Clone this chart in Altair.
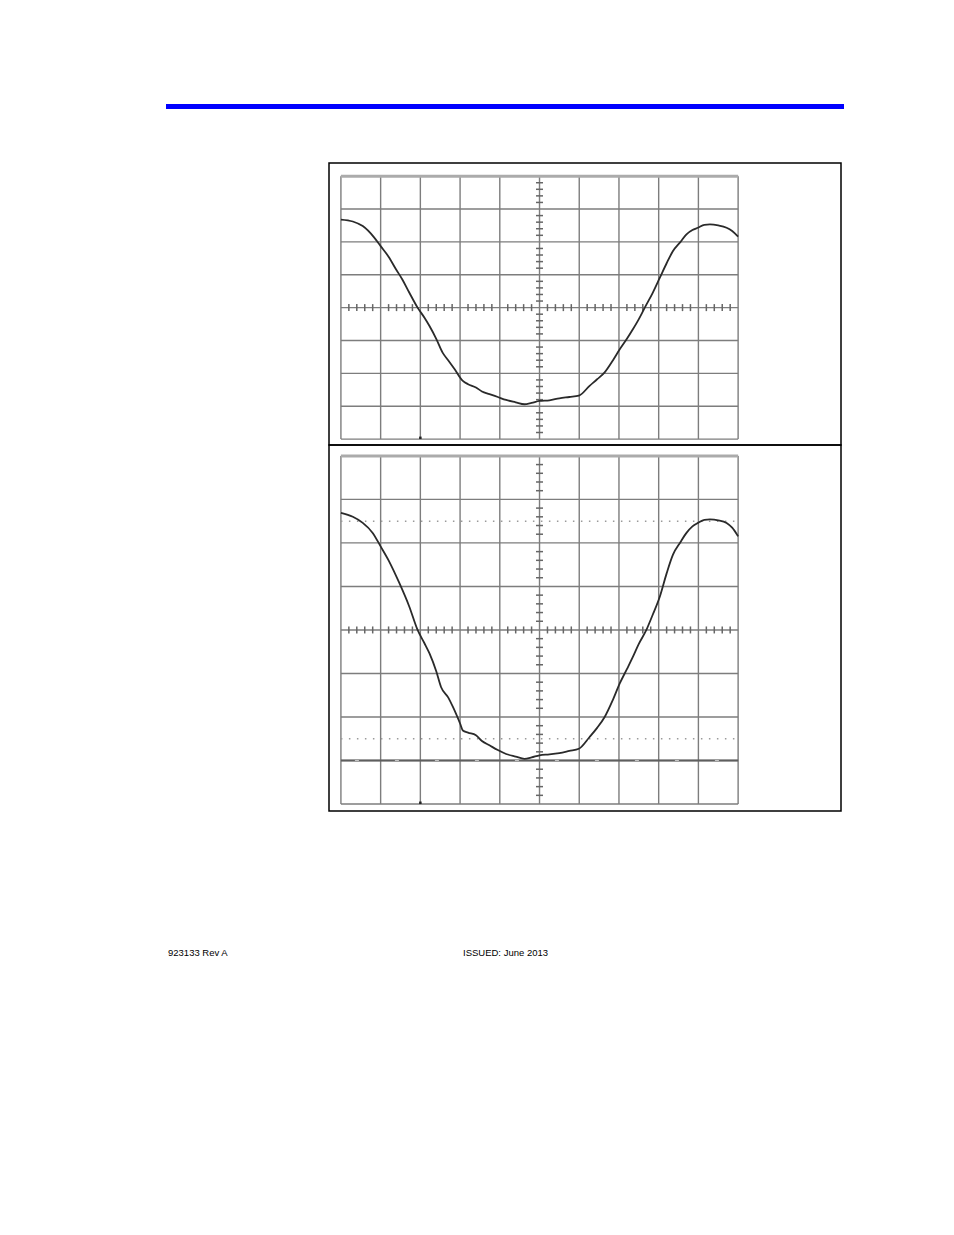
import altair as alt
import pandas as pd

# ---- trace data (screen divisions: x 0..10, y -4..4) ----
top_x = [0, 0.3, 0.55, 0.84, 1.0, 1.2, 1.39, 1.55, 1.72, 1.93, 2.1, 2.23, 2.4, 2.56, 2.7, 2.86,
         3.07, 3.2, 3.4, 3.55, 3.74, 3.95, 4.16, 4.4, 4.62, 4.8, 5.0, 5.25, 5.5, 5.75, 5.99,
         6.26, 6.45, 6.64, 6.85, 7.02, 7.2, 7.35, 7.5, 7.65, 7.85, 8.03, 8.2, 8.36, 8.55, 8.7,
         8.85, 8.99, 9.15, 9.29, 9.5, 9.71, 9.85, 10]
top_y = [2.68, 2.62, 2.48, 2.13, 1.87, 1.55, 1.16, 0.85, 0.46, 0.0, -0.3, -0.56, -0.95, -1.37,
         -1.6, -1.87, -2.23, -2.33, -2.43, -2.55, -2.63, -2.72, -2.81, -2.88, -2.94, -2.9, -2.84,
         -2.82, -2.76, -2.72, -2.68, -2.38, -2.18, -1.97, -1.6, -1.27, -0.95, -0.66, -0.35, 0.0,
         0.45, 0.91, 1.35, 1.72, 2.0, 2.23, 2.36, 2.43, 2.52, 2.53, 2.5, 2.43, 2.33, 2.16]

bot_x = [0, 0.3, 0.55, 0.8, 1.0, 1.2, 1.47, 1.72, 1.93, 2.1, 2.23, 2.4, 2.52, 2.7, 2.82, 3.0,
         3.07, 3.2, 3.4, 3.55, 3.74, 3.95, 4.16, 4.4, 4.62, 4.8, 5.0, 5.25, 5.5, 5.75, 5.99,
         6.26, 6.45, 6.64, 6.85, 7.02, 7.2, 7.35, 7.5, 7.69, 7.85, 8.03, 8.2, 8.36, 8.55, 8.7,
         8.85, 8.99, 9.15, 9.29, 9.5, 9.71, 9.85, 10]
bot_y = [2.69, 2.6, 2.46, 2.23, 1.92, 1.6, 1.08, 0.54, 0.0, -0.3, -0.54, -0.95, -1.31, -1.55,
         -1.77, -2.15, -2.31, -2.36, -2.42, -2.55, -2.65, -2.76, -2.85, -2.91, -2.96, -2.93,
         -2.88, -2.86, -2.83, -2.78, -2.73, -2.46, -2.25, -2.0, -1.6, -1.23, -0.9, -0.62, -0.32,
         0.0, 0.35, 0.77, 1.3, 1.73, 2.02, 2.23, 2.38, 2.46, 2.53, 2.54, 2.52, 2.46, 2.35, 2.15]

# grid structure
x_divs = list(range(0, 11))
y_divs = list(range(-4, 5))
minor_x = [k * 0.2 for k in range(0, 51) if k % 5 != 0]
minor_y = [k * 0.2 for k in range(-20, 21) if k % 5 != 0]
dotted_levels = [2.5, -2.5]
ref_level = [-3]

footer_left = "923133 Rev A"
footer_mid = "ISSUED: June 2013"

GRID = "#7d7d7d"
TICK = "#666666"
EDGE = "#ababab"
TRACE = "#2a2a2a"
PANEL_W = 512
X_DOM = [-0.30, 12.59]


def panel(tx, ty, h, y_top, y_bot, dotted):
    xs = alt.Scale(domain=X_DOM, nice=False, zero=False)
    ys = alt.Scale(domain=[y_bot, y_top], nice=False, zero=False)
    ppx = PANEL_W / (X_DOM[1] - X_DOM[0])
    ppy = h / (y_top - y_bot)
    X = lambda f: alt.X(f, type="quantitative", scale=xs, axis=None)
    Y = lambda f: alt.Y(f, type="quantitative", scale=ys, axis=None)

    v = pd.DataFrame({"x": x_divs, "y1": -4, "y2": 4})
    hl = pd.DataFrame({"y": y_divs, "x1": 0, "x2": 10})
    vrules = alt.Chart(v).mark_rule(color=GRID, strokeWidth=1.4).encode(
        x=X("x"), y=Y("y1"), y2="y2")
    hrules = alt.Chart(hl).mark_rule(color=GRID, strokeWidth=1.4).encode(
        y=Y("y"), x=X("x1"), x2="x2")
    topedge = alt.Chart(pd.DataFrame({"y": [4], "x1": [0], "x2": [10]})).mark_rule(
        color=EDGE, strokeWidth=3).encode(y=Y("y"), x=X("x1"), x2="x2")

    th = 3.5 / ppy
    mx = pd.DataFrame({"x": minor_x, "y1": -th, "y2": th})
    mticks_x = alt.Chart(mx).mark_rule(color=TICK, strokeWidth=1.5).encode(
        x=X("x"), y=Y("y1"), y2="y2")
    tw = 3.5 / ppx
    my = pd.DataFrame({"y": minor_y, "x1": 5 - tw, "x2": 5 + tw})
    mticks_y = alt.Chart(my).mark_rule(color=TICK, strokeWidth=1.5).encode(
        y=Y("y"), x=X("x1"), x2="x2")

    trig = alt.Chart(pd.DataFrame({"x": [2], "y1": [-4], "y2": [-4 + 2.5 / ppy]})).mark_rule(
        color="#222222", strokeWidth=2.5).encode(x=X("x"), y=Y("y1"), y2="y2")

    trace = alt.Chart(pd.DataFrame({"x": tx, "y": ty})).mark_line(
        color=TRACE, strokeWidth=1.8, interpolate="monotone").encode(
        x=X("x"), y=Y("y"), order="x:Q")

    layers = [hrules, vrules, topedge, mticks_x, mticks_y, trig]
    if dotted:
        dd = pd.DataFrame({"y": dotted_levels, "x1": 0, "x2": 10})
        layers.append(alt.Chart(dd).mark_rule(color="#9a9a9a", strokeWidth=1.5,
                                              strokeDash=[1.5, 6.5]).encode(
            y=Y("y"), x=X("x1"), x2="x2"))
        rl = pd.DataFrame({"y": ref_level, "x1": 0, "x2": 10})
        layers.append(alt.Chart(rl).mark_rule(color="#5e5e5e", strokeWidth=1.8).encode(
            y=Y("y"), x=X("x1"), x2="x2"))
        layers.append(alt.Chart(rl).mark_rule(color="#c8c8c8", strokeWidth=1,
                                              strokeDash=[4, 36], strokeDashOffset=-14).encode(
            y=Y("y"), x=X("x1"), x2="x2"))
    layers.append(trace)
    return alt.layer(*layers).properties(
        width=PANEL_W, height=h,
        view=alt.ViewBackground(stroke="black", strokeWidth=1.5))


one = pd.DataFrame({"a": [0]})

header = alt.Chart(one).mark_rect(color="#0000ff").encode(
    x=alt.value(158), x2=alt.value(836), y=alt.value(96), y2=alt.value(101)
).properties(width=836, height=154)

spacer = alt.Chart(one).mark_rect(opacity=0).encode(
    x=alt.value(0), x2=alt.value(1), y=alt.value(0), y2=alt.value(1)
).properties(width=321, height=648)

p1 = panel(top_x, top_y, 282, 4.40, -4.18, False)
p2 = panel(bot_x, bot_y, 366, 4.25, -4.16, True)
panels = alt.vconcat(p1, p2, spacing=0, bounds="flush")

ft1 = alt.Chart(one).mark_text(align="left", baseline="alphabetic", font="Liberation Sans",
                               fontSize=9.5, color="black").encode(
    x=alt.value(160), y=alt.value(144), text=alt.value(footer_left))
ft2 = alt.Chart(one).mark_text(align="left", baseline="alphabetic", font="Liberation Sans",
                               fontSize=9.5, color="black").encode(
    x=alt.value(455), y=alt.value(144), text=alt.value(footer_mid))
footer = alt.layer(ft1, ft2).properties(width=836, height=160)

chart = alt.vconcat(
    header,
    alt.hconcat(spacer, panels, spacing=0, bounds="flush"),
    footer,
    spacing=0,
    padding=0,
    background="white",
).configure_view(stroke="transparent", strokeWidth=0)

chart.save("out.html", embed_options={"renderer": "svg", "actions": False})
